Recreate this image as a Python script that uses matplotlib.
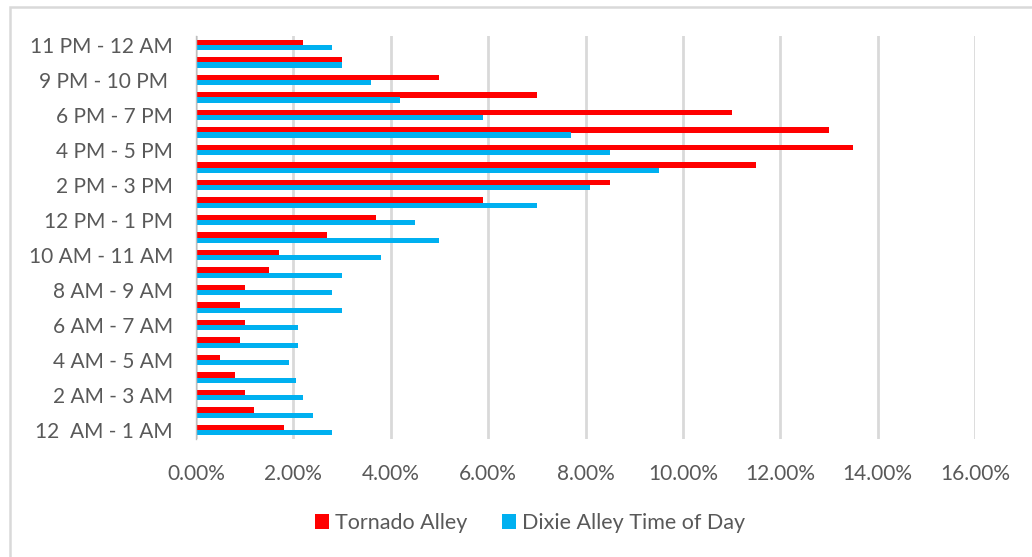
import matplotlib.pyplot as plt
import numpy as np
from matplotlib.patches import Rectangle

# hour slots, bottom to top
hours = ["12  AM - 1 AM", "1 AM - 2 AM", "2 AM - 3 AM", "3 AM - 4 AM",
         "4 AM - 5 AM", "5 AM - 6 AM", "6 AM - 7 AM", "7 AM - 8 AM",
         "8 AM - 9 AM", "9 AM - 10 AM", "10 AM - 11 AM", "11 AM - 12 PM",
         "12 PM - 1 PM", "1 PM - 2 PM", "2 PM - 3 PM", "3 PM - 4 PM",
         "4 PM - 5 PM", "5 PM - 6 PM", "6 PM - 7 PM", "7 PM - 8 PM",
         "9 PM - 10 PM ", "10 PM - 11 PM", "11 PM - 12 AM"]

# share of tornadoes per hour (%)
tornado_alley = [1.8, 1.2, 1.0, 0.8, 0.5, 0.9, 1.0, 0.9, 1.0, 1.5, 1.7, 2.7,
                 3.7, 5.9, 8.5, 11.5, 13.5, 13.0, 11.0, 7.0, 5.0, 3.0, 2.2]
dixie_alley = [2.8, 2.4, 2.2, 2.05, 1.9, 2.1, 2.1, 3.0, 2.8, 3.0, 3.8, 5.0,
               4.5, 7.0, 8.1, 9.5, 8.5, 7.7, 5.9, 4.2, 3.6, 3.0, 2.8]

xticks = [0, 2, 4, 6, 8, 10, 12, 14, 16]

RED = "#ff0000"
BLUE = "#00b0f0"
GREY = "#595959"

plt.rcParams["font.family"] = "Lato"

fig = plt.figure(figsize=(10.32, 5.57), dpi=100)
ax = fig.add_axes([196 / 1032, 1 - 438.75 / 557, (975 - 196) / 1032, 402.5 / 557])

# chart border (runs past the right and bottom edges)
fig.patches.append(Rectangle((10 / 1032, -0.05), 1.2, 1 - 7 / 557 + 0.05,
                             transform=fig.transFigure, fill=False,
                             edgecolor="#d9d9d9", linewidth=1.8))

y = np.arange(len(hours))
h = 0.286
ax.barh(y + h / 2, tornado_alley, height=h, color=RED, label="Tornado Alley")
ax.barh(y - h / 2, dixie_alley, height=h, color=BLUE, label="Dixie Alley Time of Day")

ax.set_xlim(0, 16)
ax.set_ylim(-0.5, len(hours) - 0.5)
ax.set_xticks(xticks)
ax.set_xticklabels(["%.2f%%" % v for v in xticks])
ax.set_yticks(y[::2])
ax.set_yticklabels(hours[::2])

ax.grid(axis="x", color="#d9d9d9", linewidth=2)
ax.set_axisbelow(True)
for s in ["top", "right", "bottom"]:
    ax.spines[s].set_visible(False)
ax.spines["left"].set_color("#bfbfbf")
ax.spines["left"].set_linewidth(1)
ax.tick_params(axis="both", length=0, labelsize=15, colors=GREY)
ax.tick_params(axis="y", pad=16.5)
ax.tick_params(axis="x", pad=18.3)

ax.legend(loc="center", bbox_to_anchor=(530 / 1032, 1 - 523 / 557),
          bbox_transform=fig.transFigure, ncol=2, frameon=False,
          fontsize=15.5, labelcolor=GREY, handlelength=0.65, handleheight=0.65,
          handletextpad=0.28, columnspacing=1.6, borderpad=0, borderaxespad=0)

fig.savefig("out.png", dpi=100)
